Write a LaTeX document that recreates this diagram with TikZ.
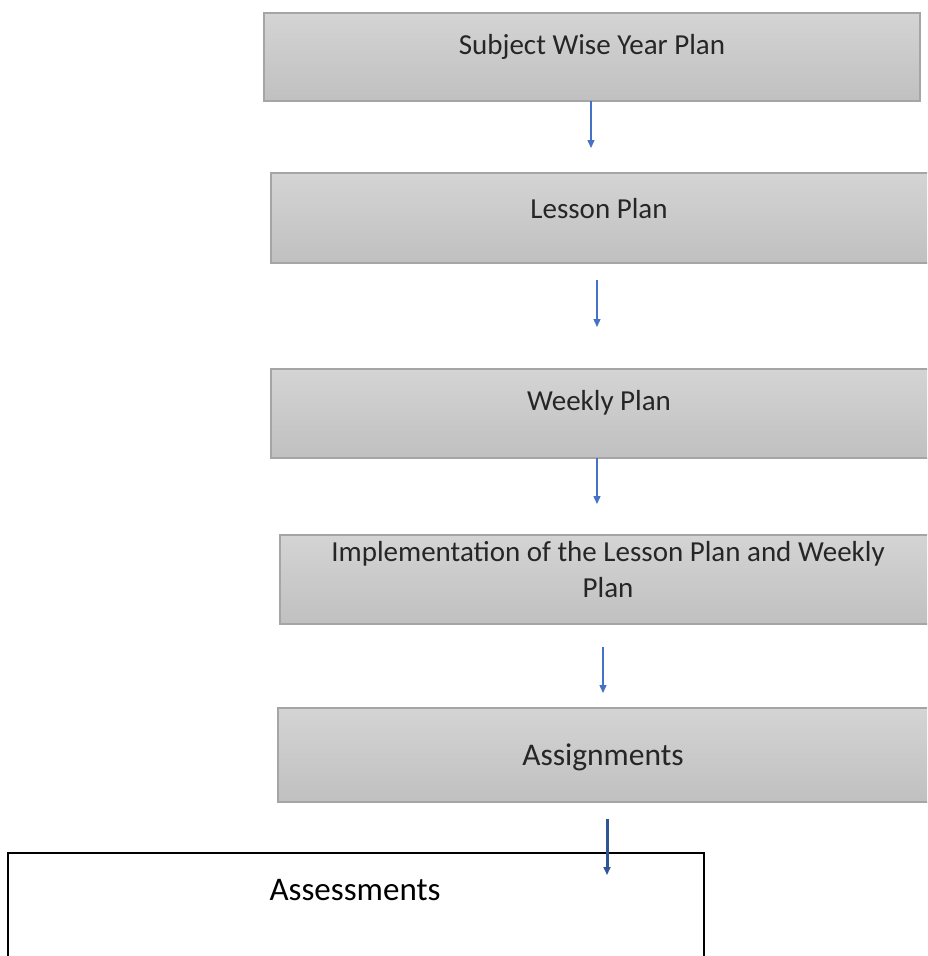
\documentclass[tikz,border=0pt]{standalone}
\usepackage{fontspec}
\setmainfont{Carlito}
\usetikzlibrary{arrows.meta}
\definecolor{boxedge}{RGB}{165,165,165}
\definecolor{boxtop}{RGB}{212,212,212}
\definecolor{boxbot}{RGB}{192,192,192}
\definecolor{arrblue}{RGB}{68,114,196}
\definecolor{arrdark}{RGB}{47,85,151}
\definecolor{txtgray}{RGB}{38,38,38}
\tikzset{
	planbox/.style={draw=boxedge, line width=1.5pt, top color=boxtop, bottom color=boxbot, inner sep=0pt},
	plantext/.style={text=txtgray, font=\fontsize{29}{36}\selectfont, align=center, inner sep=0pt},
	flowarr/.style={draw=arrblue, line width=1.3pt, -{Triangle[width=7pt,length=8pt]}},
}
\begin{document}
\begin{tikzpicture}[x=1pt,y=-1pt]
	\clip (0,0) rectangle (927,956);
	\fill[white] (0,0) rectangle (927,956);
	% the plan boxes
	\node[planbox, minimum width=656pt, minimum height=88pt] (year) at (592,57) {};
	\node[planbox, minimum width=659pt, minimum height=90pt] (lesson) at (600.5,218) {};
	\node[planbox, minimum width=659pt, minimum height=89pt] (weekly) at (600.5,413.5) {};
	\node[planbox, minimum width=650pt, minimum height=89pt] (impl) at (605,579.5) {};
	\node[planbox, minimum width=652pt, minimum height=94pt] (assign) at (604,755) {};
	\node[draw=black, line width=2.5pt, minimum width=696pt, minimum height=140pt, inner sep=0pt] (assess) at (356,923) {};
	% texts
	\node[plantext] (yeartxt) at (592,47) {Subject Wise Year Plan};
	\node[plantext] (lessontxt) at (599,209) {Lesson Plan};
	\node[plantext] (weeklytxt) at (599,403) {Weekly Plan};
	\node[plantext] (impltxt) at (608,570) {Implementation of the Lesson Plan and Weekly\\Plan};
	\node[plantext, font=\fontsize{31.5}{38}\selectfont] (assigntxt) at (603,757) {Assignments};
	\node[inner sep=0pt, font=\fontsize{33}{40}\selectfont] (assesstxt) at (355,890) {Assessments};
	% arrows
	\coordinate (a1) at (591,101); \coordinate (b1) at (591,148);
	\coordinate (a2) at (597,280); \coordinate (b2) at (597,327);
	\coordinate (a3) at (597,458); \coordinate (b3) at (597,504);
	\coordinate (a4) at (603,647); \coordinate (b4) at (603,693);
	\coordinate (a5) at (607,819); \coordinate (b5) at (607,875);
	\draw[flowarr] (a1) -- (b1);
	\draw[flowarr] (a2) -- (b2);
	\draw[flowarr] (a3) -- (b3);
	\draw[flowarr] (a4) -- (b4);
	\draw[flowarr, draw=arrdark, line width=3pt] (a5) -- (b5);
\end{tikzpicture}
\end{document}
